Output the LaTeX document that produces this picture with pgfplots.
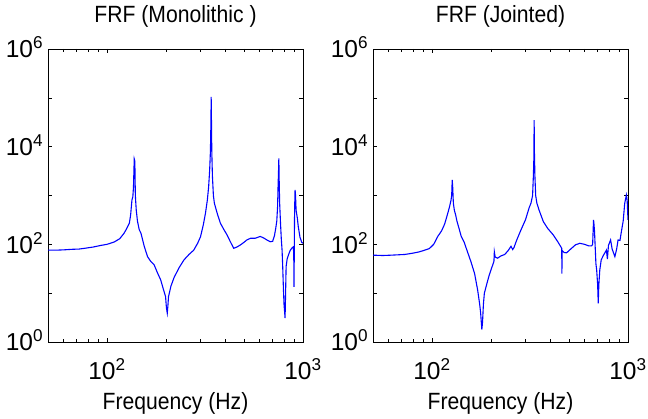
\documentclass[border=0pt]{standalone}
\usepackage{fontspec}
\setmainfont{Liberation Sans}
\newfontfamily\condfont{Liberation Sans}[FakeStretch=0.9]
\usepackage{pgfplots}
\pgfplotsset{compat=1.18}
\begin{document}
\begin{tikzpicture}[x=1pt,y=1pt]
\useasboundingbox (0,0) rectangle (648,419);
\begin{axis}[xmode=log, ymode=log, scale only axis, width=255pt, height=293pt,
  xmin=50, xmax=1000, ymin=1, ymax=1e6,
  xtick={100,1000}, xticklabels={10\textsuperscript{2},10\textsuperscript{3}},
  xminorticks=true,
  minor xtick={60,70,80,90,200,300,400,500,600,700,800,900},
  ytick={1,10,100,1000,10000,100000,1000000},
  yticklabels={10\textsuperscript{0},,10\textsuperscript{2},,10\textsuperscript{4},,10\textsuperscript{6}},
  yminorticks=false,
  tick align=inside, major tick length=4pt, minor tick length=3pt,
  tick style={black, line width=0.6pt},
  axis line style={line width=0.9pt},
  ticklabel style={font=\fontsize{24.5}{27}\selectfont, inner sep=0pt},
  xticklabel style={anchor=base, yshift=-38pt},
  yticklabel style={anchor=base east, xshift=-4.7pt, yshift=-8.8pt},
  title style={font=\condfont\fontsize{23.5}{26}\selectfont, at={(0.5,1)}, anchor=base, yshift=20.7pt, inner sep=0pt},
  xlabel style={font=\condfont\fontsize{23.5}{26}\selectfont, at={(0.5,0)}, anchor=base, yshift=-68pt, inner sep=0pt},
  xlabel={Frequency (Hz)},
  at={(48pt,77pt)}, anchor=south west, title={FRF (Monolithic )}]
\addplot[blue, line width=1.1pt] coordinates {
(50,76)(55,76)(60,77)(66,79)(72,80)(77,83)(85,88)(93,95)(100,100)(109,112)(116,130)(122,167)(126,210)(130,270)(132,400)(134,800)(135.5,950)(136.5,1500)(137.7,5600)(138.7,5000)(139.5,1000)(141,500)(143,300)(146,200)(149,169)(155,90)(161,56)(167,45)(174,38)(181,26)(188,18.6)(194,12)(199,8.5)(201,5)(203,3.9)(204.5,5.5)(206,8.5)(212,14)(220,21)(233,33)(247,48)(262,62)(277,76)(290,105)(300,143)(310,250)(318,435)(325,800)(330,1500)(334,3300)(337,8000)(339,30000)(340,105000)(341,40000)(342.5,8000)(345,2500)(349,1000)(353,700)(357,590)(367,400)(379,270)(395,200)(410,155)(425,115)(443,83)(460,88)(479,97)(500,110)(517,123)(540,133)(570,133)(605,145)(630,135)(654,123)(680,113)(700,115)(715,150)(726,213)(735,300)(742,600)(746,1500)(750,3000)(753,5750)(756,2000)(760,700)(768,270)(775,130)(782,76)(788,35)(794,13.5)(800,6)(810,3.1)(815,10)(820,35)(830,50)(842,60)(860,75)(880,85)(893,89)(897,60)(900,13.5)(903,100)(906,500)(911,1300)(916,1000)(922,500)(935,350)(946,230)(965,140)(985,110)(1000,105)
};
\end{axis}
\begin{axis}[xmode=log, ymode=log, scale only axis, width=255pt, height=293pt,
  xmin=50, xmax=1000, ymin=1, ymax=1e6,
  xtick={100,1000}, xticklabels={10\textsuperscript{2},10\textsuperscript{3}},
  xminorticks=true,
  minor xtick={60,70,80,90,200,300,400,500,600,700,800,900},
  ytick={1,10,100,1000,10000,100000,1000000},
  yticklabels={10\textsuperscript{0},,10\textsuperscript{2},,10\textsuperscript{4},,10\textsuperscript{6}},
  yminorticks=false,
  tick align=inside, major tick length=4pt, minor tick length=3pt,
  tick style={black, line width=0.6pt},
  axis line style={line width=0.9pt},
  ticklabel style={font=\fontsize{24.5}{27}\selectfont, inner sep=0pt},
  xticklabel style={anchor=base, yshift=-38pt},
  yticklabel style={anchor=base east, xshift=-4.7pt, yshift=-8.8pt},
  title style={font=\condfont\fontsize{23.5}{26}\selectfont, at={(0.5,1)}, anchor=base, yshift=20.7pt, inner sep=0pt},
  xlabel style={font=\condfont\fontsize{23.5}{26}\selectfont, at={(0.5,0)}, anchor=base, yshift=-68pt, inner sep=0pt},
  xlabel={Frequency (Hz)},
  at={(373pt,77pt)}, anchor=south west, title={FRF (Jointed)}]
\addplot[blue, line width=1.1pt] coordinates {
(50,60)(56,59)(62,60)(72.6,62)(80,66)(86,70)(91.8,76)(97,82)(102,100)(107,145)(112,190)(116,260)(120.5,440)(123,600)(125,800)(126,1000)(126.8,2090)(127.5,1500)(128.5,700)(130,500)(132,400)(134,300)(137,220)(141,145)(146,110)(150,80)(158,44)(165,25)(171,11.5)(175,6)(177,4)(179.6,1.8)(181,2.5)(183,6)(185,10)(190,15)(195,22)(200,30)(205,40)(207,45)(208,70)(210,55)(216,52)(225,58)(235,62)(245,75)(253,91)(258,78)(262,86)(270,120)(284,195)(300,320)(313,560)(320,700)(326,1000)(329,2500)(331,6000)(332,35000)(333,8000)(335,2500)(338,1000)(343,690)(352,500)(370,290)(390,210)(416,155)(440,110)(459,83)(460,25)(461,75)(472,68)(486,67)(510,80)(540,98)(568,105)(600,100)(630,93)(652,93)(660,100)(667,316)(671,250)(675,180)(680,90)(686,40)(692,30)(700,15)(705,6.2)(710,15)(718,30)(730,48)(750,60)(776,76)(785,50)(795,95)(815,123)(830,80)(857,56)(875,80)(890,123)(910,120)(925,182)(945,300)(962,690)(981,1020)(990,800)(1000,316)
};
\end{axis}
\end{tikzpicture}
\end{document}
